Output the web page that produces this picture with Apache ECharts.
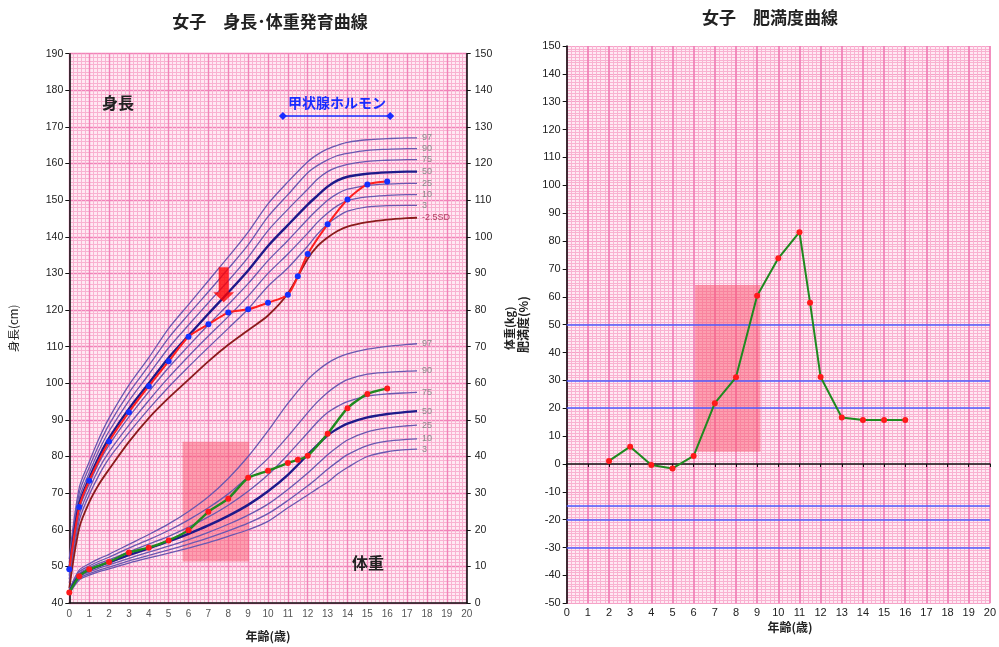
<!DOCTYPE html>
<html><head><meta charset="utf-8">
<script src="https://cdn.jsdelivr.net/npm/echarts@6/dist/echarts.min.js"></script>
<style>html,body{margin:0;padding:0;background:#fff}#c{width:999px;height:647px}</style>
</head><body><div id="c"></div>
<script>
// ---------- DATA ----------
const ages = [0,0.5,1,1.5,2,3,4,5,6,7,8,9,10,11,12,12.5,13,13.5,14,15,16,17,17.5];
// height percentile curves (cm)
const hP3  = [45.5,62.5,69.5,75.0,79.5,86.5,93.0,99.0,104.5,109.8,115.0,120.3,126.5,131.5,137.5,140.8,143.5,145.5,147.0,148.2,148.5,148.6,148.6];
const hP10 = [46.5,64.0,71.0,76.8,81.3,88.6,95.3,101.6,107.4,112.9,118.2,123.8,130.0,135.3,141.0,144.0,146.5,148.5,149.9,150.9,151.3,151.5,151.5];
const hP25 = [47.5,65.5,72.5,78.4,83.1,90.8,97.7,104.3,110.2,116.0,121.5,127.2,133.5,139.0,144.8,147.5,150.0,151.8,153.0,154.0,154.4,154.6,154.6];
const hP50 = [49.0,67.0,74.0,80.0,85.0,93.0,100.0,107.0,113.0,119.0,124.8,130.8,137.5,143.2,148.8,151.3,153.7,155.4,156.4,157.2,157.6,157.8,157.8];
const hP75 = [50.0,68.5,75.5,81.7,86.9,95.2,102.4,109.7,115.9,122.0,128.0,134.4,141.7,147.5,153.0,155.8,157.8,159.0,159.8,160.6,160.9,161.1,161.1];
const hP90 = [51.0,70.0,77.0,83.3,88.7,97.4,104.8,112.4,118.8,125.0,131.3,137.8,145.5,151.5,157.5,159.5,161.0,162.2,162.8,163.6,163.9,164.1,164.1];
const hP97 = [52.0,71.5,78.5,85.0,90.5,99.5,107.0,115.0,121.5,128.0,134.5,141.3,149.0,155.0,160.5,162.5,164.0,165.0,165.8,166.5,166.8,167.0,167.0];
const hSDm25 = [44.0,60.5,67.5,72.5,76.5,84.0,90.5,96.0,101.0,106.0,110.5,114.5,118.5,124.5,134.0,137.5,139.8,141.6,142.8,144.0,144.7,145.1,145.2];
// weight percentile curves (kg)
const wP3  = [2.5,6.3,7.6,8.6,9.3,10.9,12.3,13.6,15.0,16.5,18.2,20.0,22.3,26.0,29.5,31.3,33.0,35.2,37.0,40.0,41.3,41.9,42.0];
const wP10 = [2.7,6.7,8.0,9.0,9.8,11.5,13.0,14.5,16.1,17.8,19.7,21.8,24.4,28.0,32.0,34.2,36.5,38.6,40.5,43.0,44.2,44.7,44.8];
const wP25 = [2.85,7.1,8.5,9.5,10.4,12.2,13.9,15.5,17.3,19.3,21.5,24.0,27.0,31.0,35.5,38.0,40.5,42.6,44.5,46.7,47.8,48.4,48.6];
const wP50 = [3.0,7.5,9.0,10.1,11.1,13.1,14.9,16.8,18.9,21.2,23.8,26.8,30.5,35.0,40.5,43.2,45.8,47.6,49.0,50.7,51.6,52.2,52.4];
const wP75 = [3.2,8.0,9.6,10.8,11.8,14.0,16.1,18.2,20.7,23.5,26.7,30.5,35.0,40.5,46.5,49.5,52.0,53.7,55.0,56.5,57.1,57.4,57.5];
const wP90 = [3.4,8.5,10.1,11.4,12.5,15.0,17.3,19.8,22.7,26.0,29.8,34.5,39.5,45.5,52.0,55.0,57.5,59.5,61.0,62.5,63.0,63.3,63.4];
const wP97 = [3.6,9.0,10.7,12.1,13.3,16.0,18.7,21.6,25.0,29.0,34.0,40.0,47.0,54.5,61.0,63.5,65.5,67.0,68.0,69.3,70.1,70.6,70.8];
// patient measurements
const hAges = [0,0.5,1,2,3,4,5,6,7,8,9,10,11,11.5,12,13,14,15,16];
const heights = [49.2,66.2,73.4,84.1,92.1,99.2,106.0,112.7,116.1,119.3,120.2,122.0,124.2,129.2,135.3,143.4,150.2,154.3,155.1];
const wAges = [0,0.5,1,2,3,4,5,6,7,8,9,10,11,11.5,12,13,14,15,16];
const weights = [2.9,7.3,9.2,11.2,13.8,15.1,17.1,19.9,24.9,28.5,34.2,36.1,38.2,39.1,40.2,46.2,53.2,57.1,58.6];
// obesity degree (%)
const oAges = [2,3,4,5,6,7,8,9,10,11,11.5,12,13,14,15,16];
const obesity = [1.1,6.2,-0.4,-1.6,2.9,21.8,31.1,60.4,73.8,83.2,57.9,31.2,16.7,15.8,15.8,15.8];
const obesityRefLines = [50,30,20,-15,-20,-30];
// thyroid hormone treatment period (years) and highlighted periods
const thyroidPeriod = [10.75, 16.15];
const thyroidLevel = 173;
const weightHighlight = {x:[5.7,9.05], y:[11.3,44]};
const obesityHighlight = {x:[6.07,9.16], y:[4.4,64.2]};
const arrowPoint = [7.77, 126.9];
const pctLabels = ['97','90','75','50','25','10','3'];

// ---------- CHART ----------
const FONT = '"Noto Sans CJK JP", "Noto Sans", sans-serif';
const NUMFONT = '"Liberation Sans", Arial, sans-serif';
const chart = echarts.init(document.getElementById('c'), null, {renderer:'canvas'});

const curveColor = '#6a58b0';
function curve(vals, label, yIdx, opts) {
  opts = opts || {};
  return {
    type:'line', xAxisIndex:0, yAxisIndex:yIdx, silent:true,
    data: ages.map((a,i)=>[a, vals[i]]),
    smooth:0.3, symbol:'none', z:3,
    lineStyle:{color: opts.color || curveColor, width: opts.width || 1.3},
    endLabel:{show:true, formatter: label, color: opts.labelColor || '#8a8a8a', fontSize:9, fontFamily:NUMFONT, distance:5}
  };
}
const hCurves = [hP97,hP90,hP75,hP50,hP25,hP10,hP3];
const wCurves = [wP97,wP90,wP75,wP50,wP25,wP10,wP3];
const series = [];
hCurves.forEach((c,i)=>series.push(curve(c, pctLabels[i], 0, pctLabels[i]==='50'?{color:'#1e1a8a',width:2.4}:{})));
series.push(curve(hSDm25, '-2.5SD', 0, {color:'#8b1c1c', width:1.8, labelColor:'#b04060'}));
wCurves.forEach((c,i)=>series.push(curve(c, pctLabels[i], 1, pctLabels[i]==='50'?{color:'#1e1a8a',width:2.4}:{})));

// highlight rectangle (weight)
series.push({
  type:'line', xAxisIndex:0, yAxisIndex:1, data:[], silent:true, z:2,
  markArea:{silent:true, itemStyle:{color:'rgba(250,85,110,0.5)'},
    data:[[{coord:[weightHighlight.x[0], weightHighlight.y[1]]},{coord:[weightHighlight.x[1], weightHighlight.y[0]]}]]}
});
// patient height
series.push({
  type:'line', xAxisIndex:0, yAxisIndex:0, z:6,
  data: hAges.map((a,i)=>[a, heights[i]]), smooth:0.25,
  lineStyle:{color:'#ff1f1f', width:2}, symbol:'circle', symbolSize:6,
  itemStyle:{color:'#1530ff', borderWidth:0}
});
// patient weight
series.push({
  type:'line', xAxisIndex:0, yAxisIndex:1, z:6,
  data: wAges.map((a,i)=>[a, weights[i]]), smooth:0.2,
  lineStyle:{color:'#1f8a1f', width:2.4}, symbol:'circle', symbolSize:6,
  itemStyle:{color:'#ff1a1a', borderWidth:0}
});
// thyroid hormone period bar
series.push({
  type:'line', xAxisIndex:0, yAxisIndex:0, z:6,
  data: thyroidPeriod.map(a=>[a, thyroidLevel]),
  lineStyle:{color:'#1a2cff', width:1.6}, symbol:'diamond', symbolSize:8,
  itemStyle:{color:'#1a2cff'}
});
// red arrow
series.push({
  type:'scatter', xAxisIndex:0, yAxisIndex:0, z:7, silent:true,
  data:[arrowPoint],
  symbol:'path://M5.5,0 L15.5,0 L15.5,25 L21,25 L10.5,35 L0,25 L5.5,25 Z',
  symbolSize:[21,35], itemStyle:{color:'#ff0000'}
});
// obesity chart
series.push({
  type:'line', xAxisIndex:1, yAxisIndex:2, data:[], silent:true, z:2,
  markArea:{silent:true, itemStyle:{color:'rgba(250,85,110,0.5)'},
    data:[[{coord:[obesityHighlight.x[0], obesityHighlight.y[1]]},{coord:[obesityHighlight.x[1], obesityHighlight.y[0]]}]]},
  markLine:{silent:true, symbol:'none', label:{show:false},
    lineStyle:{color:'#4d5cff', width:1.6, type:'solid'},
    data: obesityRefLines.map(v=>({yAxis:v}))}
});
series.push({
  type:'line', xAxisIndex:1, yAxisIndex:2, z:6,
  data: oAges.map((a,i)=>[a, obesity[i]]),
  lineStyle:{color:'#1f8a1f', width:2}, symbol:'circle', symbolSize:6,
  itemStyle:{color:'#ff1a1a', borderWidth:0}
});

const majorPink = {color:'#f183b8', width:1.4};
const minorPink = {color:'#f9b2d1', width:1};
const blackLine = {color:'#111', width:1.6};
const tickLbl = {color:'#222', fontSize:10.5, fontFamily:NUMFONT};
const nameStyle = {color:'#222', fontSize:12, fontWeight:'bold', fontFamily:FONT};

const option = {
  animation:false,
  backgroundColor:'#ffffff',
  grid:[
    {left:69.3, right:532.3, top:53.7, bottom:41.3, show:true, backgroundColor:'#ffe9f3', borderWidth:0},
    {left:566.7, right:4, top:46, bottom:43.7, show:true, backgroundColor:'#ffe9f3', borderWidth:0}
  ],
  xAxis:[
    {type:'value', gridIndex:0, min:0, max:20, interval:1,
     axisLine:{show:true, onZero:false, lineStyle:blackLine},
     axisTick:{show:false},
     axisLabel:{color:'#555', fontSize:10, fontFamily:NUMFONT, margin:6},
     splitLine:{show:true, lineStyle:majorPink},
     minorTick:{show:false, splitNumber:5},
     minorSplitLine:{show:true, lineStyle:minorPink},
     name:'年齢(歳)', nameLocation:'middle', nameGap:27, nameTextStyle:nameStyle},
    {type:'value', gridIndex:1, min:0, max:20, interval:1,
     axisLine:{show:true, onZero:true, lineStyle:blackLine},
     axisTick:{show:true, length:3, lineStyle:{color:'#111'}},
     axisLabel:{color:'#222', fontSize:11, fontFamily:NUMFONT, margin:4},
     splitLine:{show:true, lineStyle:{color:'#f183b8', width:1.8}},
     minorTick:{show:false, splitNumber:5},
     minorSplitLine:{show:true, lineStyle:minorPink}}
  ],
  yAxis:[
    {type:'value', gridIndex:0, min:40, max:190, interval:10, position:'left',
     axisLine:{show:true, onZero:false, lineStyle:blackLine},
     axisTick:{show:true, length:4, lineStyle:{color:'#111'}},
     axisLabel:{...tickLbl, margin:6},
     splitLine:{show:true, lineStyle:majorPink},
     minorTick:{show:false, splitNumber:10},
     minorSplitLine:{show:true, lineStyle:minorPink},
     name:'身長(cm)', nameLocation:'middle', nameGap:50, nameRotate:90, nameTextStyle:{...nameStyle, fontWeight:'normal', fontSize:11.5}},
    {type:'value', gridIndex:0, min:0, max:150, interval:10, position:'right',
     axisLine:{show:true, onZero:false, lineStyle:blackLine},
     axisTick:{show:true, length:4, lineStyle:{color:'#111'}},
     axisLabel:{...tickLbl, margin:8},
     splitLine:{show:false},
     name:'体重(kg)', nameLocation:'middle', nameGap:38, nameRotate:90, nameTextStyle:{...nameStyle, fontSize:11}},
    {type:'value', gridIndex:1, min:-50, max:150, interval:10, position:'left',
     axisLine:{show:true, onZero:false, lineStyle:blackLine},
     axisTick:{show:true, length:4, lineStyle:{color:'#111'}},
     axisLabel:{...tickLbl, fontSize:11, margin:6},
     splitLine:{show:true, lineStyle:{color:'#f6a2c8', width:1}},
     minorTick:{show:false, splitNumber:10},
     minorSplitLine:{show:true, lineStyle:minorPink},
     name:'肥満度(%)', nameLocation:'middle', nameGap:37, nameRotate:90, nameTextStyle:{...nameStyle, fontSize:12}}
  ],
  graphic:[
    {type:'text', x:270, y:22, style:{text:'女子　身長･体重発育曲線', font:'bold 17px '+FONT, fill:'#222', textAlign:'center', textVerticalAlign:'middle'}},
    {type:'text', x:770, y:18, style:{text:'女子　肥満度曲線', font:'bold 17px '+FONT, fill:'#222', textAlign:'center', textVerticalAlign:'middle'}},
    {type:'text', x:118, y:103, z:10, style:{text:'身長', font:'bold 16px '+FONT, fill:'#222', textAlign:'center', textVerticalAlign:'middle'}},
    {type:'text', x:337, y:103, z:10, style:{text:'甲状腺ホルモン', font:'bold 14px '+FONT, fill:'#1a2cff', textAlign:'center', textVerticalAlign:'middle'}},
    {type:'text', x:368, y:563, z:10, style:{text:'体重', font:'bold 16px '+FONT, fill:'#222', textAlign:'center', textVerticalAlign:'middle'}},
    {type:'text', x:790, y:627, z:10, style:{text:'年齢(歳)', font:'bold 12px '+FONT, fill:'#222', textAlign:'center', textVerticalAlign:'middle'}}
  ],
  series: series
};
chart.setOption(option);
</script></body></html>
